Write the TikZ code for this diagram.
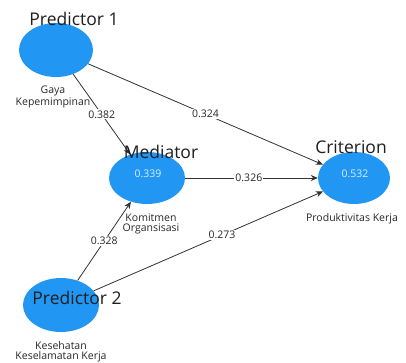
\documentclass[tikz,border=0pt]{standalone}
\usepackage{fontspec}
\setmainfont{Open Sans}
\usetikzlibrary{shapes.geometric,arrows.meta}
\definecolor{lvblue}{RGB}{33,150,243}
\definecolor{lvtext}{RGB}{215,240,255}
\definecolor{titlegray}{RGB}{30,30,30}
\definecolor{capgray}{RGB}{40,40,40}
\definecolor{linegray}{RGB}{50,50,50}
\begin{document}
\begin{tikzpicture}[x=1pt,y=-1pt,
  latent/.style={ellipse, fill=lvblue, draw=none, inner sep=0pt,
    font=\fontsize{10.5}{12}\selectfont, text=lvtext},
  title/.style={font=\fontsize{17.5}{20}\selectfont, text=titlegray, inner sep=0pt},
  caption/.style={font=\fontsize{10.5}{10}\selectfont, align=center, text=capgray, inner sep=0pt},
  link/.style={draw=linegray, line width=0.8pt, -{Stealth[length=7pt,width=6pt]}},
  coef/.style={fill=white, inner sep=1pt, font=\fontsize{10.5}{12}\selectfont, text=capgray}]
  \useasboundingbox[fill=white] (0,0) rectangle (406,363);

  % latent variables
  \node[latent, minimum width=74pt, minimum height=54pt] (p1) at (56,50) {};
  \node[latent, minimum width=76pt, minimum height=52pt] (med) at (147,178) {};
  \node[latent, minimum width=72pt, minimum height=52pt] (crit) at (354,178) {};
  \node[latent, minimum width=76pt, minimum height=54pt] (p2) at (61,305) {};

  % values inside the constructs
  \node[latent, fill=none] (r2med) at (148,174) {0.339};
  \node[latent, fill=none] (r2crit) at (355,174) {0.532};

  % structural paths
  \draw[link] (p1) -- node[coef, pos=0.5] {0.382} (med);
  \draw[link] (p1) -- node[coef, pos=0.5] {0.324} (crit);
  \draw[link] (med) -- node[coef, pos=0.48] {0.326} (crit);
  \draw[link] (p2) -- node[coef, pos=0.5] {0.328} (med);
  \draw[link] (p2) -- node[coef, pos=0.56] {0.273} (crit);

  % role titles
  \node[title] (t1) at (74,19) {Predictor 1};
  \node[title] (tm) at (161,152) {Mediator};
  \node[title] (tc) at (351,147) {Criterion};
  \node[title] (t2) at (77,298) {Predictor 2};

  % construct names
  \node[caption] (c1) at (53,97) {Gaya\\Kepemimpinan};
  \node[caption] (cm) at (151,224) {Komitmen\\Organsisasi};
  \node[caption] (cc) at (352,219) {Produktivitas Kerja};
  \node[caption] (c2) at (61,352) {Kesehatan\\Keselamatan Kerja};
\end{tikzpicture}
\end{document}
